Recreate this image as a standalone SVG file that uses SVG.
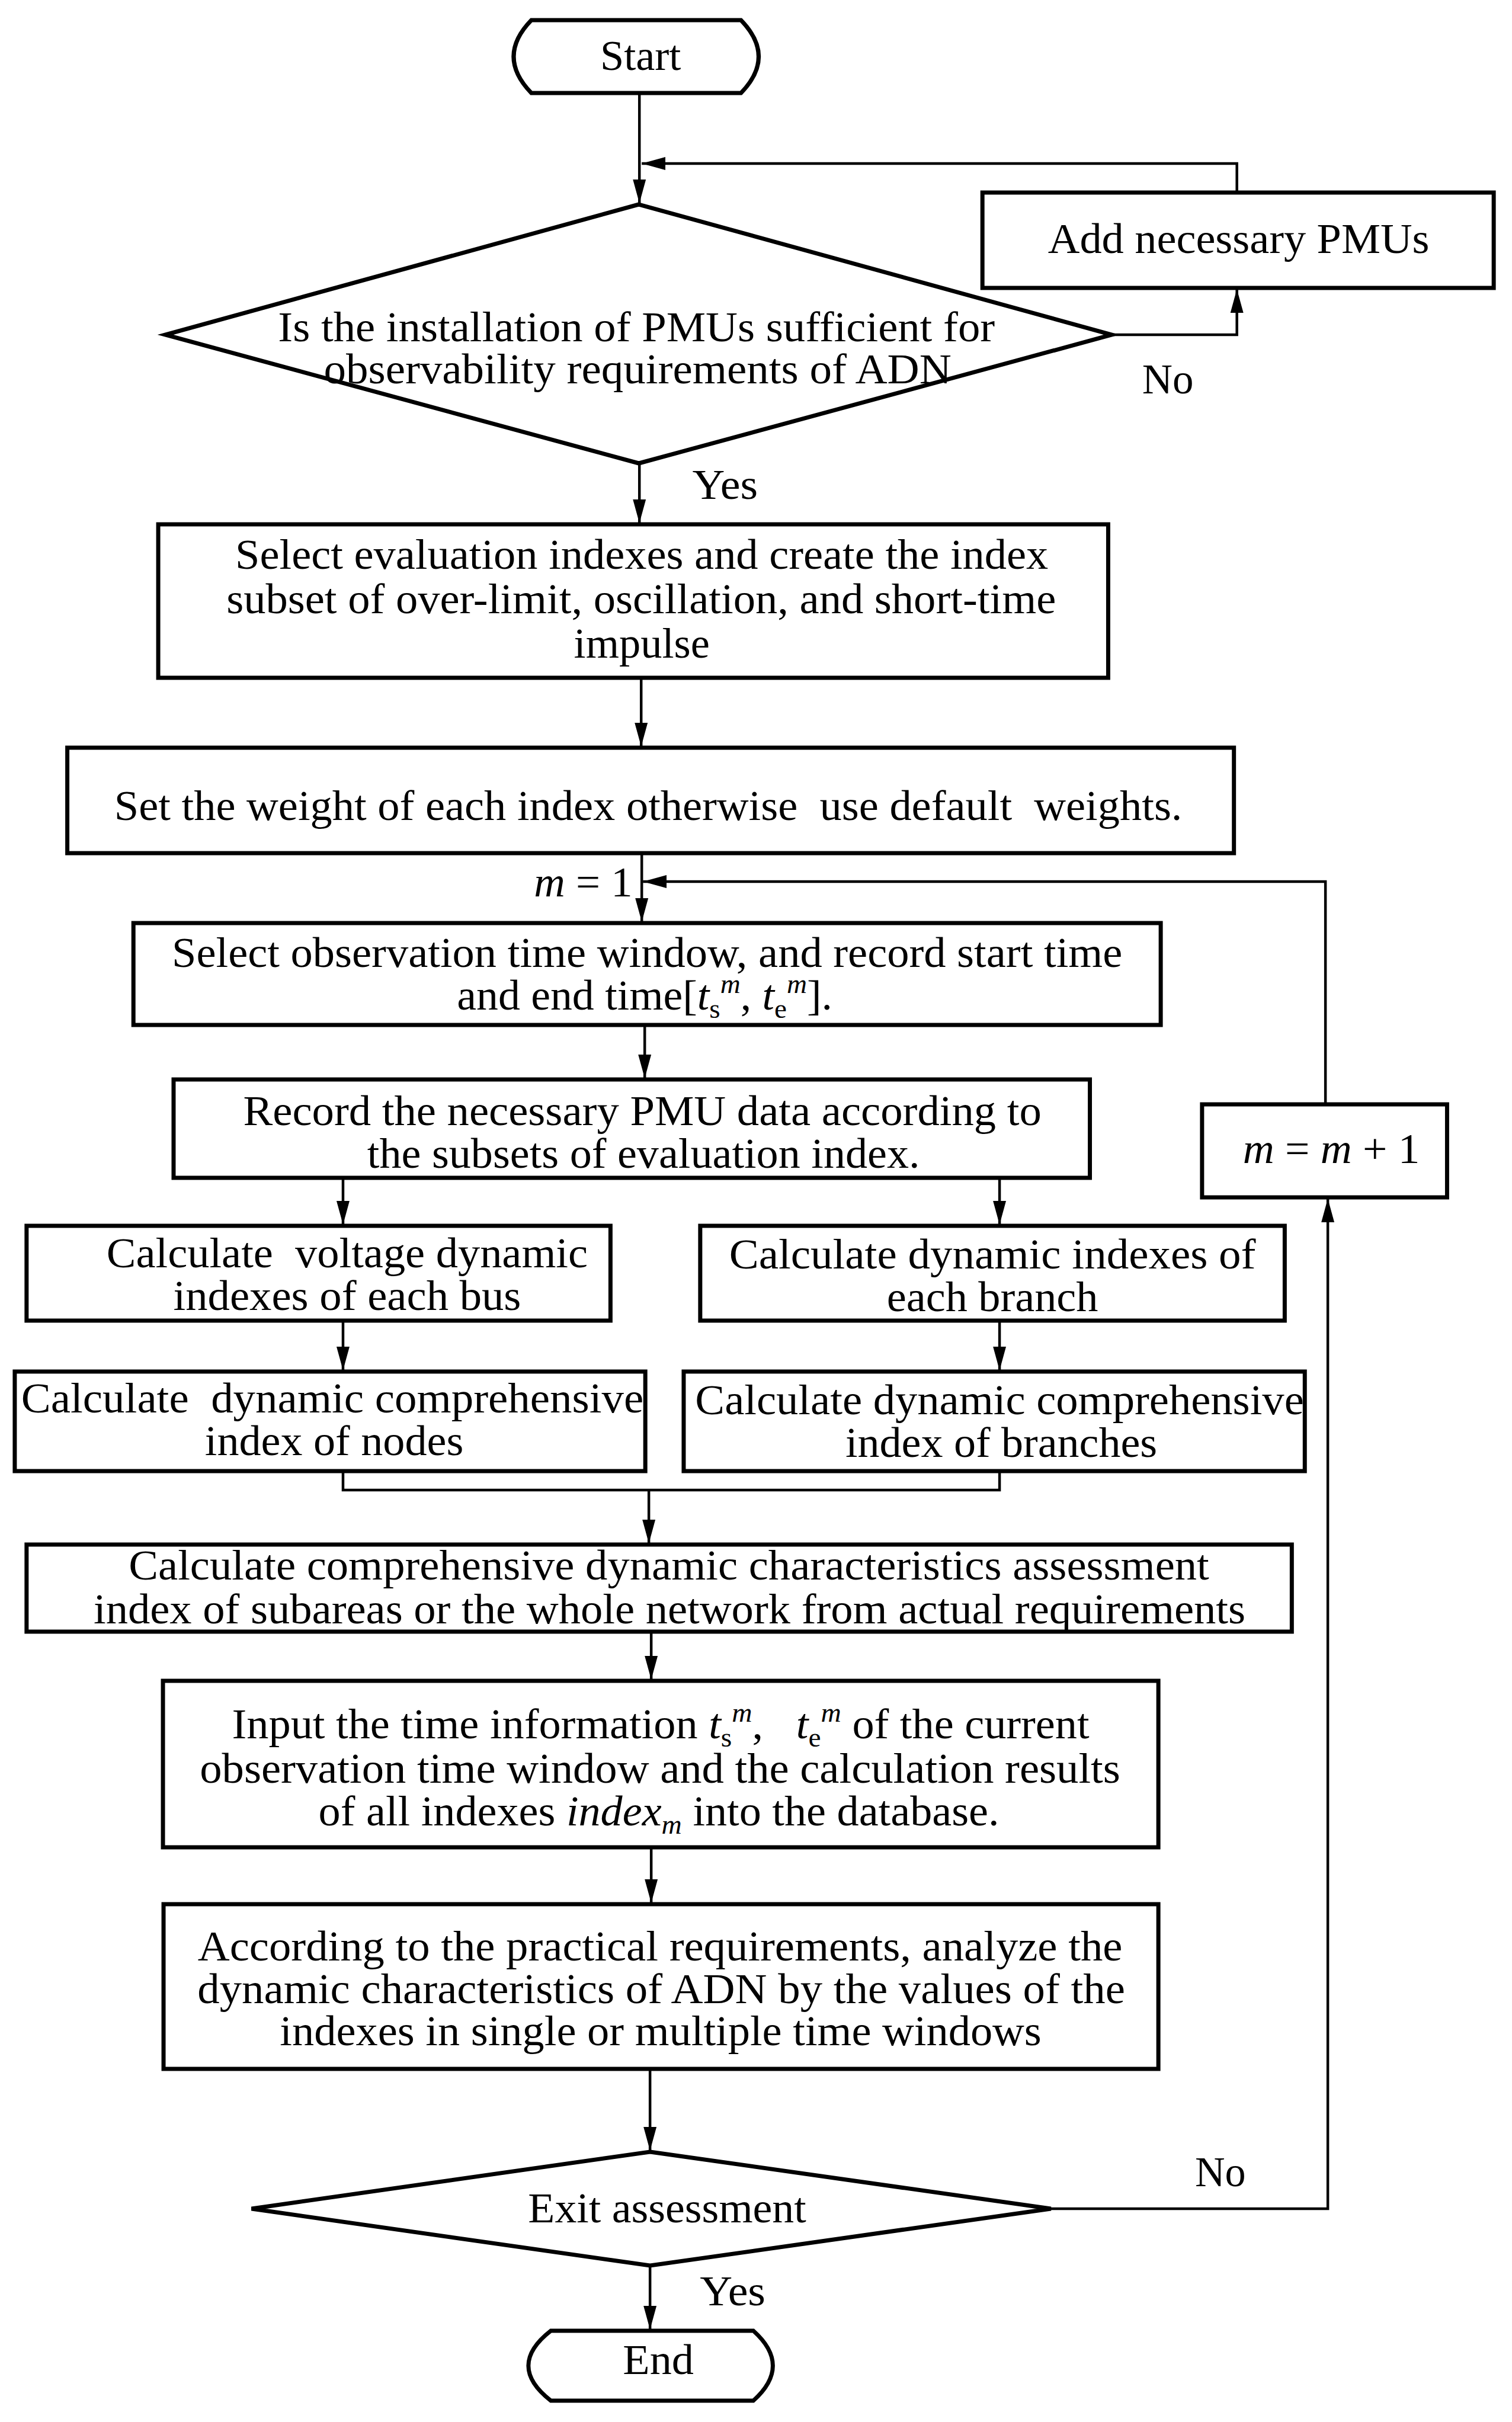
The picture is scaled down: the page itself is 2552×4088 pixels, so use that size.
<svg xmlns="http://www.w3.org/2000/svg" width="2552" height="4088" viewBox="0 0 2552 4088">
<defs>
<marker id="ah" markerUnits="userSpaceOnUse" markerWidth="42" markerHeight="24" refX="40" refY="12" orient="auto">
<path d="M0,1 L40,12 L0,23 Z" fill="#000"/>
</marker>
<style>
.n{fill:#fff;stroke:#000;stroke-width:7;stroke-linejoin:miter}
.c{fill:none;stroke:#000;stroke-width:4.5}
.a{marker-end:url(#ah)}
text{font-family:"Liberation Serif","Times New Roman",serif;font-size:72px;fill:#000;text-anchor:middle}
.i{font-style:italic}
.s{font-size:46px}
</style>
</defs>
<rect width="2552" height="4088" fill="#fff"/>
<g transform="scale(0.9965,1)">
<g id="connectors">
<path class="c a" d="M1083,157 V343"/>
<path class="c a" d="M2095,325 V276 H1087"/>
<path class="c a" d="M1883,565 H2095 V488"/>
<path class="c a" d="M1083,782 V883"/>
<path class="c a" d="M1086,1144 V1260"/>
<path class="c a" d="M1087,1440 V1556"/>
<path class="c a" d="M2245,1864 V1488 H1089"/>
<path class="c a" d="M1092,1730 V1820"/>
<path class="c a" d="M581,1988 V2067"/>
<path class="c a" d="M1693,1988 V2067"/>
<path class="c a" d="M581,2229 V2313"/>
<path class="c a" d="M1693,2229 V2313"/>
<path class="c" d="M581,2483 V2515 H1693 V2483"/>
<path class="c a" d="M1099,2515 V2605"/>
<path class="c a" d="M1103,2754 V2835"/>
<path class="c a" d="M1103,3118 V3212"/>
<path class="c a" d="M1101,3492 V3630"/>
<path class="c a" d="M1780,3728 H2249 V2023"/>
<path class="c a" d="M1101,3824 V3932"/>
</g>
<g id="start">
<path class="n" d="M900,34 H1255 Q1315,95.5 1255,157 H900 Q840,95.5 900,34 Z"/>
<text x="1085" y="118" textLength="137" lengthAdjust="spacingAndGlyphs">Start</text>
</g>
<g id="add-pmus">
<rect class="n" x="1664" y="325" width="866" height="161"/>
<text x="2098" y="427" textLength="646" lengthAdjust="spacingAndGlyphs">Add necessary PMUs</text>
</g>
<g id="decision-pmu">
<polygon class="n" points="1082,345 1883,565 1082,782 280,565"/>
<text x="1078" y="576" textLength="1214" lengthAdjust="spacingAndGlyphs">Is the installation of PMUs sufficient for</text>
<text x="1080" y="647" textLength="1063" lengthAdjust="spacingAndGlyphs">observability requirements of ADN</text>
</g>
<g id="label-no-1"><text x="1978" y="664" textLength="87" lengthAdjust="spacingAndGlyphs">No</text></g>
<g id="label-yes-1"><text x="1228" y="842" textLength="111" lengthAdjust="spacingAndGlyphs">Yes</text></g>
<g id="select-indexes">
<rect class="n" x="268" y="885" width="1609" height="259"/>
<text x="1087" y="960" textLength="1377" lengthAdjust="spacingAndGlyphs">Select evaluation indexes and create the index</text>
<text x="1086" y="1035" textLength="1405" lengthAdjust="spacingAndGlyphs">subset of over-limit, oscillation, and short-time</text>
<text x="1087" y="1110" textLength="230" lengthAdjust="spacingAndGlyphs">impulse</text>
</g>
<g id="set-weights">
<rect class="n" x="114" y="1262" width="1976" height="178"/>
<text x="1098" y="1384" textLength="1809" lengthAdjust="spacingAndGlyphs" xml:space="preserve">Set the weight of each index otherwise  use default  weights.</text>
</g>
<g id="label-m1"><text x="988" y="1513" textLength="167" lengthAdjust="spacingAndGlyphs" xml:space="preserve"><tspan class="i">m</tspan> = 1</text></g>
<g id="select-window">
<rect class="n" x="226" y="1558" width="1740" height="172"/>
<text x="1096" y="1632" textLength="1610" lengthAdjust="spacingAndGlyphs">Select observation time window, and record start time</text>
<text x="1092" y="1704" textLength="636" lengthAdjust="spacingAndGlyphs">and end time[<tspan class="i">t</tspan><tspan class="s" dy="14">s</tspan><tspan class="s i" dy="-42">m</tspan><tspan dy="28">, </tspan><tspan class="i">t</tspan><tspan class="s" dy="14">e</tspan><tspan class="s i" dy="-42">m</tspan><tspan dy="28">].</tspan></text>
</g>
<g id="record-data">
<rect class="n" x="294" y="1822" width="1552" height="166"/>
<text x="1088" y="1899" textLength="1352" lengthAdjust="spacingAndGlyphs">Record the necessary PMU data according to</text>
<text x="1090" y="1971" textLength="936" lengthAdjust="spacingAndGlyphs">the subsets of evaluation index.</text>
</g>
<g id="increment-m">
<rect class="n" x="2036" y="1864" width="415" height="157"/>
<text x="2255" y="1963" textLength="300" lengthAdjust="spacingAndGlyphs" xml:space="preserve"><tspan class="i">m</tspan> = <tspan class="i">m</tspan> + 1</text>
</g>
<g id="calc-bus">
<rect class="n" x="45" y="2069" width="989" height="160"/>
<text x="588" y="2139" textLength="815" lengthAdjust="spacingAndGlyphs" xml:space="preserve">Calculate  voltage dynamic</text>
<text x="588" y="2211" textLength="589" lengthAdjust="spacingAndGlyphs">indexes of each bus</text>
</g>
<g id="calc-branch">
<rect class="n" x="1186" y="2069" width="990" height="160"/>
<text x="1681" y="2141" textLength="892" lengthAdjust="spacingAndGlyphs">Calculate dynamic indexes of</text>
<text x="1681" y="2213" textLength="358" lengthAdjust="spacingAndGlyphs">each branch</text>
</g>
<g id="comp-nodes">
<rect class="n" x="25" y="2315" width="1068" height="168"/>
<text x="563" y="2384" textLength="1054" lengthAdjust="spacingAndGlyphs" xml:space="preserve">Calculate  dynamic comprehensive</text>
<text x="566" y="2456" textLength="438" lengthAdjust="spacingAndGlyphs">index of nodes</text>
</g>
<g id="comp-branches">
<rect class="n" x="1158" y="2315" width="1052" height="168"/>
<text x="1693" y="2387" textLength="1031" lengthAdjust="spacingAndGlyphs">Calculate dynamic comprehensive</text>
<text x="1696" y="2459" textLength="528" lengthAdjust="spacingAndGlyphs">index of branches</text>
</g>
<g id="comp-network">
<rect class="n" x="45" y="2607" width="2143" height="147"/>
<text x="1133" y="2666" textLength="1830" lengthAdjust="spacingAndGlyphs">Calculate comprehensive dynamic characteristics assessment</text>
<text x="1134" y="2740" textLength="1951" lengthAdjust="spacingAndGlyphs">index of subareas or the whole network from actual requirements</text>
</g>
<g id="input-db">
<rect class="n" x="276" y="2837" width="1686" height="281"/>
<text x="1119" y="2934" textLength="1452" lengthAdjust="spacingAndGlyphs" xml:space="preserve">Input the time information <tspan class="i">t</tspan><tspan class="s" dy="14">s</tspan><tspan class="s i" dy="-42">m</tspan><tspan dy="28">,   </tspan><tspan class="i">t</tspan><tspan class="s" dy="14">e</tspan><tspan class="s i" dy="-42">m</tspan><tspan dy="28"> of the current</tspan></text>
<text x="1118" y="3009" textLength="1559" lengthAdjust="spacingAndGlyphs">observation time window and the calculation results</text>
<text x="1116" y="3081" textLength="1153" lengthAdjust="spacingAndGlyphs" xml:space="preserve">of all indexes <tspan class="i">index</tspan><tspan class="s i" dy="14">m</tspan><tspan dy="-14"> into the database.</tspan></text>
</g>
<g id="analyze">
<rect class="n" x="277" y="3214" width="1685" height="278"/>
<text x="1118" y="3309" textLength="1566" lengthAdjust="spacingAndGlyphs">According to the practical requirements, analyze the</text>
<text x="1120" y="3381" textLength="1571" lengthAdjust="spacingAndGlyphs">dynamic characteristics of ADN by the values of the</text>
<text x="1119" y="3452" textLength="1290" lengthAdjust="spacingAndGlyphs">indexes in single or multiple time windows</text>
</g>
<g id="decision-exit">
<polygon class="n" points="1101,3632 1780,3728 1101,3824 426,3728"/>
<text x="1130" y="3751" textLength="471" lengthAdjust="spacingAndGlyphs">Exit assessment</text>
</g>
<g id="label-no-2"><text x="2067" y="3690" textLength="86" lengthAdjust="spacingAndGlyphs">No</text></g>
<g id="label-yes-2"><text x="1241" y="3891" textLength="111" lengthAdjust="spacingAndGlyphs">Yes</text></g>
<g id="end">
<path class="n" d="M933,3934 H1276 Q1342,3993 1276,4052 H933 Q857,3993 933,3934 Z"/>
<text x="1115" y="4007" textLength="120" lengthAdjust="spacingAndGlyphs">End</text>
</g>
</g>
</svg>
